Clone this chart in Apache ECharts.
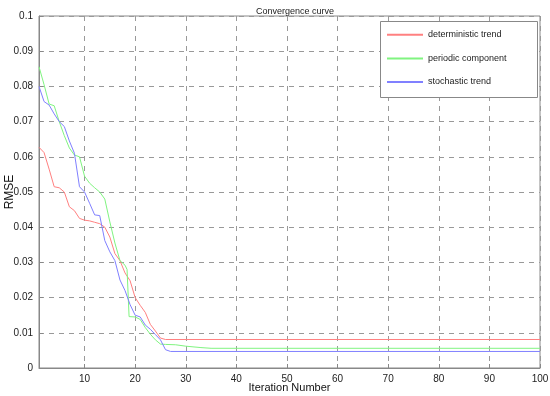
<!DOCTYPE html>
<html><head><meta charset="utf-8">
<script src="https://cdn.jsdelivr.net/npm/echarts@6/dist/echarts.min.js"></script>
<style>html,body{margin:0;padding:0;background:#fff}#c{width:550px;height:396px}</style>
</head><body><div id="c"></div>
<script>
const seriesNames = ['deterministic trend', 'periodic component', 'stochastic trend'];
const xTicks = [10, 20, 30, 40, 50, 60, 70, 80, 90, 100];
const deterministicX = [1,2,3,4,5,6,7,8,9,10,11,12,13,14,15,16,17,18,19,20,21,22,23,24,25,26,100];
const deterministicY = [0.0627,0.0612,0.0565,0.0515,0.0512,0.0500,0.0458,0.0447,0.0425,0.0420,0.0418,0.0414,0.0410,0.0400,0.0372,0.0325,0.0305,0.0270,0.0248,0.0200,0.0178,0.0158,0.0124,0.0105,0.0085,0.0081,0.0081];
const periodicX = [1,2,3,4,5,6,7,8,9,10,11,12,13,14,15,16,17,18,18.4,18.8,20,21,22,23,24,25,26,28,30,33,35,100];
const periodicY = [0.0856,0.0805,0.0750,0.0745,0.0700,0.0660,0.0625,0.0605,0.0600,0.0545,0.0525,0.0512,0.0500,0.0480,0.0415,0.0355,0.0305,0.0292,0.0280,0.0146,0.0145,0.0138,0.0115,0.0096,0.0080,0.0068,0.0067,0.0066,0.0062,0.0058,0.0056,0.0056];
const stochasticX = [1,2,3,4,5,6,7,8,9,10,11,12,13,14,15,16,17,18,19,20,21,22,23,24,25,26,27,100];
const stochasticY = [0.0800,0.0757,0.0747,0.0722,0.0700,0.0686,0.0645,0.0610,0.0515,0.0500,0.0468,0.0435,0.0433,0.0362,0.0330,0.0305,0.0250,0.0220,0.0180,0.0150,0.0145,0.0122,0.0110,0.0095,0.0080,0.0052,0.0047,0.0047];

const colors = ['#ff8080', '#80f480', '#8080ff'];
const pair = (xs, ys) => xs.map((x, i) => [x, ys[i]]);
const font = 'Liberation Sans, Arial, sans-serif';

const chart = echarts.init(document.getElementById('c'), null, {renderer: 'canvas'});
chart.setOption({
  backgroundColor: '#fff',
  animation: false,
  title: {text: 'Convergence curve', left: 290, top: 2, textAlign: 'center',
    textStyle: {fontFamily: font, fontSize: 9, fontWeight: 'normal', color: '#222'}},
  grid: {left: 39, right: 10, top: 16, bottom: 28, show: true, borderColor: '#888', borderWidth: 1,
    containLabel: false, outerBoundsMode: 'none'},
  xAxis: {
    type: 'value', min: 1, max: 100,
    name: 'Iteration Number', nameLocation: 'middle', nameGap: 14, nameMoveOverlap: false,
    nameTextStyle: {fontFamily: font, fontSize: 11, color: '#111', verticalAlign: 'top'},
    axisLine: {show: true, lineStyle: {color: '#888'}},
    axisTick: {show: true, inside: true, length: 4, customValues: xTicks, lineStyle: {color: '#888'}},
    axisLabel: {customValues: xTicks, fontFamily: font, fontSize: 10, color: '#222', margin: 6},
    splitLine: {show: true, customValues: xTicks, lineStyle: {color: '#999', type: [5, 5], width: 1}}
  },
  yAxis: {
    type: 'value', min: 0, max: 0.1, interval: 0.01,
    name: 'RMSE', nameLocation: 'middle', nameGap: 23, nameRotate: 90, nameMoveOverlap: false,
    nameTextStyle: {fontFamily: font, fontSize: 12, color: '#111'},
    axisLine: {show: true, lineStyle: {color: '#888'}},
    axisTick: {show: true, inside: true, length: 4, lineStyle: {color: '#888'}},
    axisLabel: {fontFamily: font, fontSize: 10, color: '#222', margin: 6,
      formatter: v => String(Math.round(v * 100) / 100)},
    splitLine: {show: true, lineStyle: {color: '#999', type: [5, 5], width: 1}}
  },
  graphic: [{type: 'rect', shape: {x: 380.5, y: 21.5, width: 157, height: 76},
    style: {fill: '#fff', stroke: '#888', lineWidth: 1}, z: 50}],
  legend: {
    orient: 'vertical', left: 380, top: 17, padding: [13, 6, 8, 6], itemGap: 14,
    itemWidth: 36, itemHeight: 12, z: 60,
    itemStyle: {opacity: 0},
    textStyle: {fontFamily: font, fontSize: 9, color: '#222'},
    data: seriesNames
  },
  series: [
    {name: seriesNames[0], type: 'line', data: pair(deterministicX, deterministicY), symbol: 'none', lineStyle: {width: 1, color: colors[0]}, itemStyle: {color: colors[0]}},
    {name: seriesNames[1], type: 'line', data: pair(periodicX, periodicY), symbol: 'none', lineStyle: {width: 1, color: colors[1]}, itemStyle: {color: colors[1]}},
    {name: seriesNames[2], type: 'line', data: pair(stochasticX, stochasticY), symbol: 'none', lineStyle: {width: 1, color: colors[2]}, itemStyle: {color: colors[2]}}
  ]
});
</script></body></html>
